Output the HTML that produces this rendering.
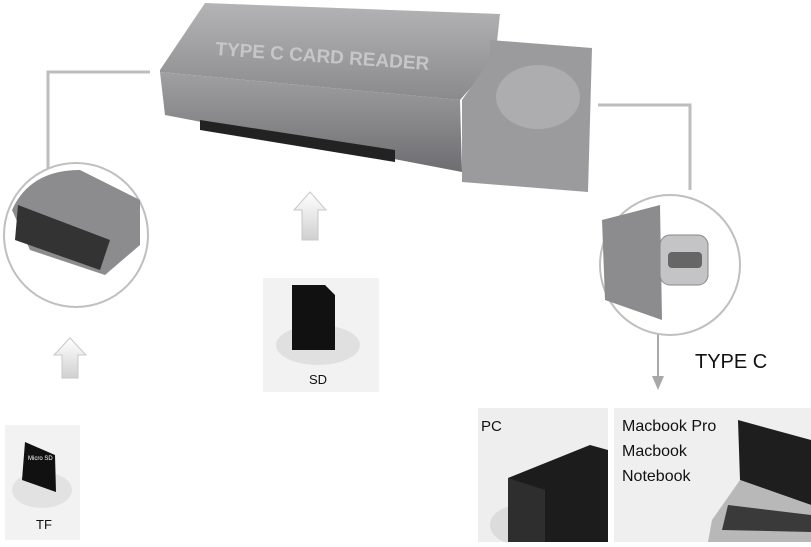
<!DOCTYPE html>
<html><head><style>
body{margin:0;background:#fff;width:811px;height:542px;overflow:hidden;font-family:"Liberation Sans",sans-serif}
</style></head><body>
<svg width="811" height="542" viewBox="0 0 811 542" xmlns="http://www.w3.org/2000/svg" font-family="Liberation Sans, sans-serif">
<defs>
<linearGradient id="g1" x1="0" y1="0" x2="0" y2="1"><stop offset="0" stop-color="#b4b4b6"/><stop offset="1" stop-color="#8a8a8d"/></linearGradient>
<linearGradient id="g2" x1="0" y1="0" x2="0" y2="1"><stop offset="0" stop-color="#a0a0a2"/><stop offset="1" stop-color="#6e6e71"/></linearGradient>
<linearGradient id="ar" x1="0" y1="0" x2="0" y2="1"><stop offset="0" stop-color="#fff"/><stop offset="1" stop-color="#d0d0d0"/></linearGradient>
</defs>
<polyline points="150,72 48,72 48,170" fill="none" stroke="#bdbdbd" stroke-width="3"/>
<polyline points="598,105 690,105 690,190" fill="none" stroke="#bdbdbd" stroke-width="3"/>
<line x1="658" y1="334" x2="658" y2="378" stroke="#a8a8a8" stroke-width="2"/>
<polygon points="652,376 664,376 658,390" fill="#a8a8a8"/>
<polygon points="205,3 500,14 495,60 460,100 160,72 160,70" fill="url(#g1)"/>
<polygon points="160,72 460,100 462,172 165,115" fill="url(#g2)"/>
<polygon points="200,120 395,150 395,162 200,130" fill="#222"/>
<polygon points="490,40 592,48 588,192 462,182 462,100 490,60" fill="#9b9b9e"/>
<ellipse cx="538" cy="97" rx="42" ry="32" fill="#adadaf"/>
<text x="215" y="55" font-size="19" font-weight="bold" fill="#c6c6c8" transform="rotate(4 215 55)">TYPE C CARD READER</text>
<circle cx="76" cy="235" r="72" fill="#fff" stroke="#bfbfbf" stroke-width="2"/>
<path d="M12,210 Q30,170 80,170 L140,200 L140,245 L105,275 L30,250 Z" fill="#8c8c8f"/>
<polygon points="18,205 110,240 100,270 15,240" fill="#333"/>
<circle cx="670" cy="265" r="70" fill="#fff" stroke="#bfbfbf" stroke-width="2"/>
<path d="M602,220 L660,205 L662,320 L605,300 Z" fill="#8c8c8f"/>
<rect x="660" y="235" width="48" height="50" rx="10" fill="#c4c4c6" stroke="#888"/>
<rect x="668" y="252" width="34" height="16" rx="4" fill="#666"/>
<polygon points="70,338 86,355 78,355 78,378 62,378 62,355 54,355" fill="url(#ar)" stroke="#c8c8c8"/>
<polygon points="310,192 326,210 318,210 318,240 302,240 302,210 294,210" fill="url(#ar)" stroke="#c8c8c8"/>
<rect x="263" y="278" width="116" height="114" fill="#f2f2f2"/>
<ellipse cx="318" cy="345" rx="42" ry="20" fill="#e0e0e0"/>
<polygon points="292,285 325,285 335,295 335,350 292,350" fill="#111"/>
<text x="318" y="384" font-size="13" text-anchor="middle" fill="#111">SD</text>
<rect x="5" y="425" width="75" height="115" fill="#f2f2f2"/>
<ellipse cx="42" cy="490" rx="30" ry="18" fill="#e2e2e2"/>
<polygon points="25,442 55,455 56,492 22,480" fill="#111"/>
<text x="28" y="460" font-size="6" fill="#fff">Micro SD</text>
<text x="44" y="529" font-size="13" text-anchor="middle" fill="#111">TF</text>
<rect x="478" y="408" width="130" height="134" fill="#eeeeee"/>
<ellipse cx="520" cy="525" rx="30" ry="20" fill="#dcdcdc"/>
<polygon points="508,478 590,445 608,450 608,542 508,542" fill="#1c1c1c"/>
<polygon points="508,478 545,490 545,542 508,542" fill="#2e2e2e"/>
<text x="481" y="431" font-size="15" fill="#111">PC</text>
<rect x="614" y="408" width="197" height="134" fill="#efefef"/>
<polygon points="738,420 811,440 811,505 740,480" fill="#1e1e1e"/>
<polygon points="740,480 811,505 811,542 708,542 712,520" fill="#b8b8b8"/>
<polygon points="728,505 811,515 811,532 722,530" fill="#3a3a3a"/>
<text x="622" y="431" font-size="16" fill="#111">Macbook Pro</text>
<text x="622" y="456" font-size="16" fill="#111">Macbook</text>
<text x="622" y="481" font-size="16" fill="#111">Notebook</text>
<text x="695" y="368" font-size="20" fill="#111">TYPE C</text>
</svg>
</body></html>
